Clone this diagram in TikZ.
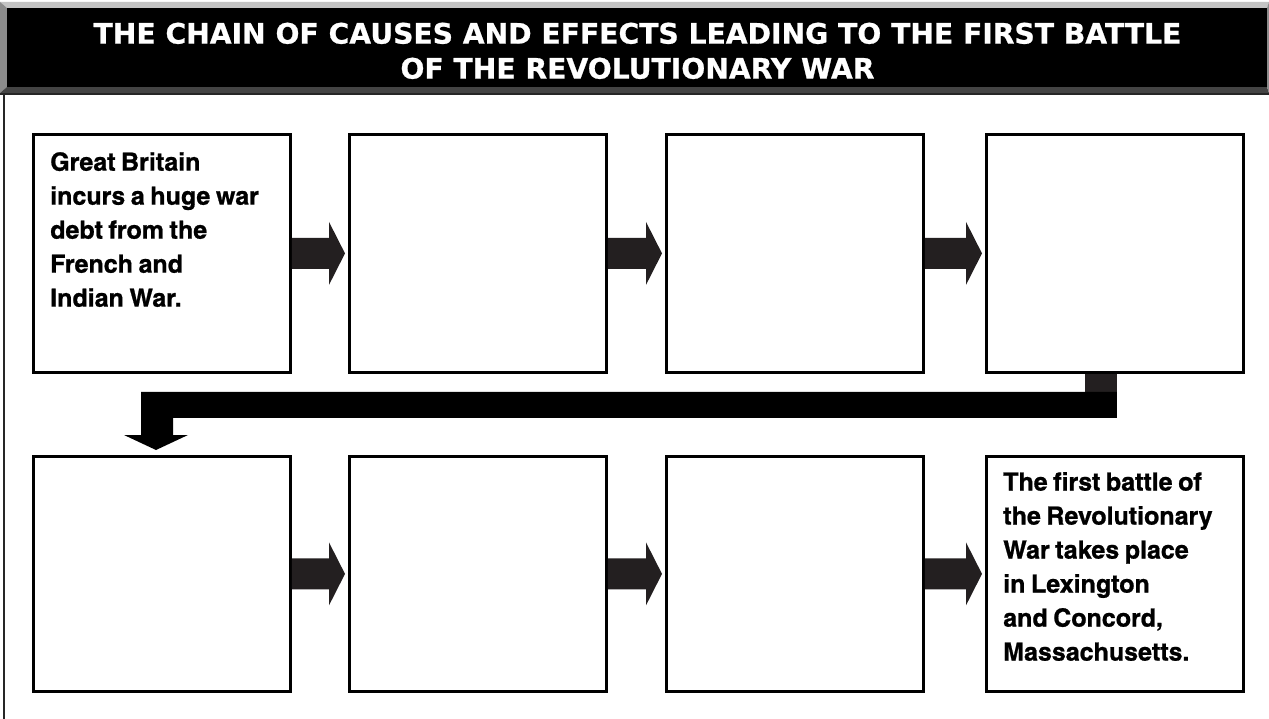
\documentclass[tikz,border=0pt]{standalone}
\usepackage{fontspec}
\setmainfont{Liberation Sans}
\newfontfamily\titlefont{DejaVu Sans}[BoldFeatures={FakeBold=0.8}]
\newfontfamily\condfont{TeX Gyre Heros Cn}[FakeStretch=1.22, WordSpace=0.8, BoldFeatures={FakeBold=0.8}]
\usetikzlibrary{calc}
\definecolor{arrowc}{HTML}{231F20}
\definecolor{bevtop}{HTML}{C4C4C4}
\definecolor{bevside}{HTML}{8C8C8C}
\definecolor{bevbot}{HTML}{444444}
\tikzset{
  cbox/.style={draw=black, line width=2.8pt, fill=white, anchor=north west,
    minimum width=257pt, inner sep=0pt},
  rowone/.style={minimum height=238pt},
  rowtwo/.style={minimum height=235pt},
  boxtext/.style={anchor=north west, inner sep=0pt, align=left,
    font=\condfont\bfseries\fontsize{25}{34}\selectfont},
  titletext/.style={text=white, align=center, inner sep=0pt, anchor=north,
    font=\titlefont\bfseries\fontsize{28.2}{35}\selectfont}
}
\newcommand{\chainarrow}[2]{%
  \fill[arrowc] let \p1=(#1.east), \p2=(#2.west) in
    (\x1,\y1+15.5pt) -- (\x2-19pt,\y1+15.5pt) -- (\x2-19pt,\y1+31.5pt) --
    (\x2-3pt,\y1) -- (\x2-19pt,\y1-31.5pt) -- (\x2-19pt,\y1-15.5pt) --
    (\x1,\y1-15.5pt) -- cycle;}
\begin{document}
\begin{tikzpicture}[x=1pt,y=-1pt]
\useasboundingbox (0,0) rectangle (1269,719);
\fill[white] (0,0) rectangle (1269,719);
% title bevel
\fill[bevtop] (0,2) -- (1269,2) -- (1267,8) -- (7,8) -- cycle;
\fill[bevside] (0,2) -- (7,8) -- (7,87) -- (0,93) -- cycle;
\fill[bevbot] (0,93) -- (7,87) -- (1267,87) -- (1269,93) -- cycle;
\fill[bevside] (1269,2) -- (1267,8) -- (1267,87) -- (1269,93) -- cycle;
\fill[black] (7,8) rectangle (1267,87);
\draw[black!85, line width=1.2pt] (0,94) -- (1269,94);
\draw[black!85, line width=2pt] (4,94) -- (4,719);
\node[titletext] (title) at (637.5,22.5) {THE CHAIN OF CAUSES AND EFFECTS LEADING TO THE FIRST BATTLE\\OF THE REVOLUTIONARY WAR};
% boxes
\node[cbox, rowone] (b1) at (32,133) {};
\node[cbox, rowone] (b2) at (348,133) {};
\node[cbox, rowone] (b3) at (665,133) {};
\node[cbox, rowone] (b4) at (985,133) {};
\node[cbox, rowtwo] (b5) at (32,455) {};
\node[cbox, rowtwo] (b6) at (348,455) {};
\node[cbox, rowtwo] (b7) at (665,455) {};
\node[cbox, rowtwo] (b8) at (985,455) {};
\node[boxtext] (t1) at (50,152) {Great Britain\\incurs a huge war\\debt from the\\French and\\Indian War.};
\node[boxtext] (t8) at (1003,472) {The first battle of\\the Revolutionary\\War takes place\\in Lexington\\and Concord,\\Massachusetts.};
% arrows
\chainarrow{b1}{b2}
\chainarrow{b2}{b3}
\chainarrow{b3}{b4}
\chainarrow{b5}{b6}
\chainarrow{b6}{b7}
\chainarrow{b7}{b8}
% connector row 1 to row 2
\fill[arrowc] let \p1=(b4.south) in (\x1-30pt,\y1) rectangle (\x1+2pt,\y1-18pt);
\fill[black] let \p1=(b4.south), \p2=(b5.north west) in
  (\x1+2pt,\y1-18pt) -- (\x1+2pt,\y1-44pt) -- (\x2+141pt,\y1-44pt) --
  (\x2+141pt,\y2+20pt) -- (\x2+156pt,\y2+20pt) -- (\x2+124pt,\y2+5pt) --
  (\x2+92pt,\y2+20pt) -- (\x2+109pt,\y2+20pt) -- (\x2+109pt,\y1-18pt) -- cycle;
\end{tikzpicture}
\end{document}
